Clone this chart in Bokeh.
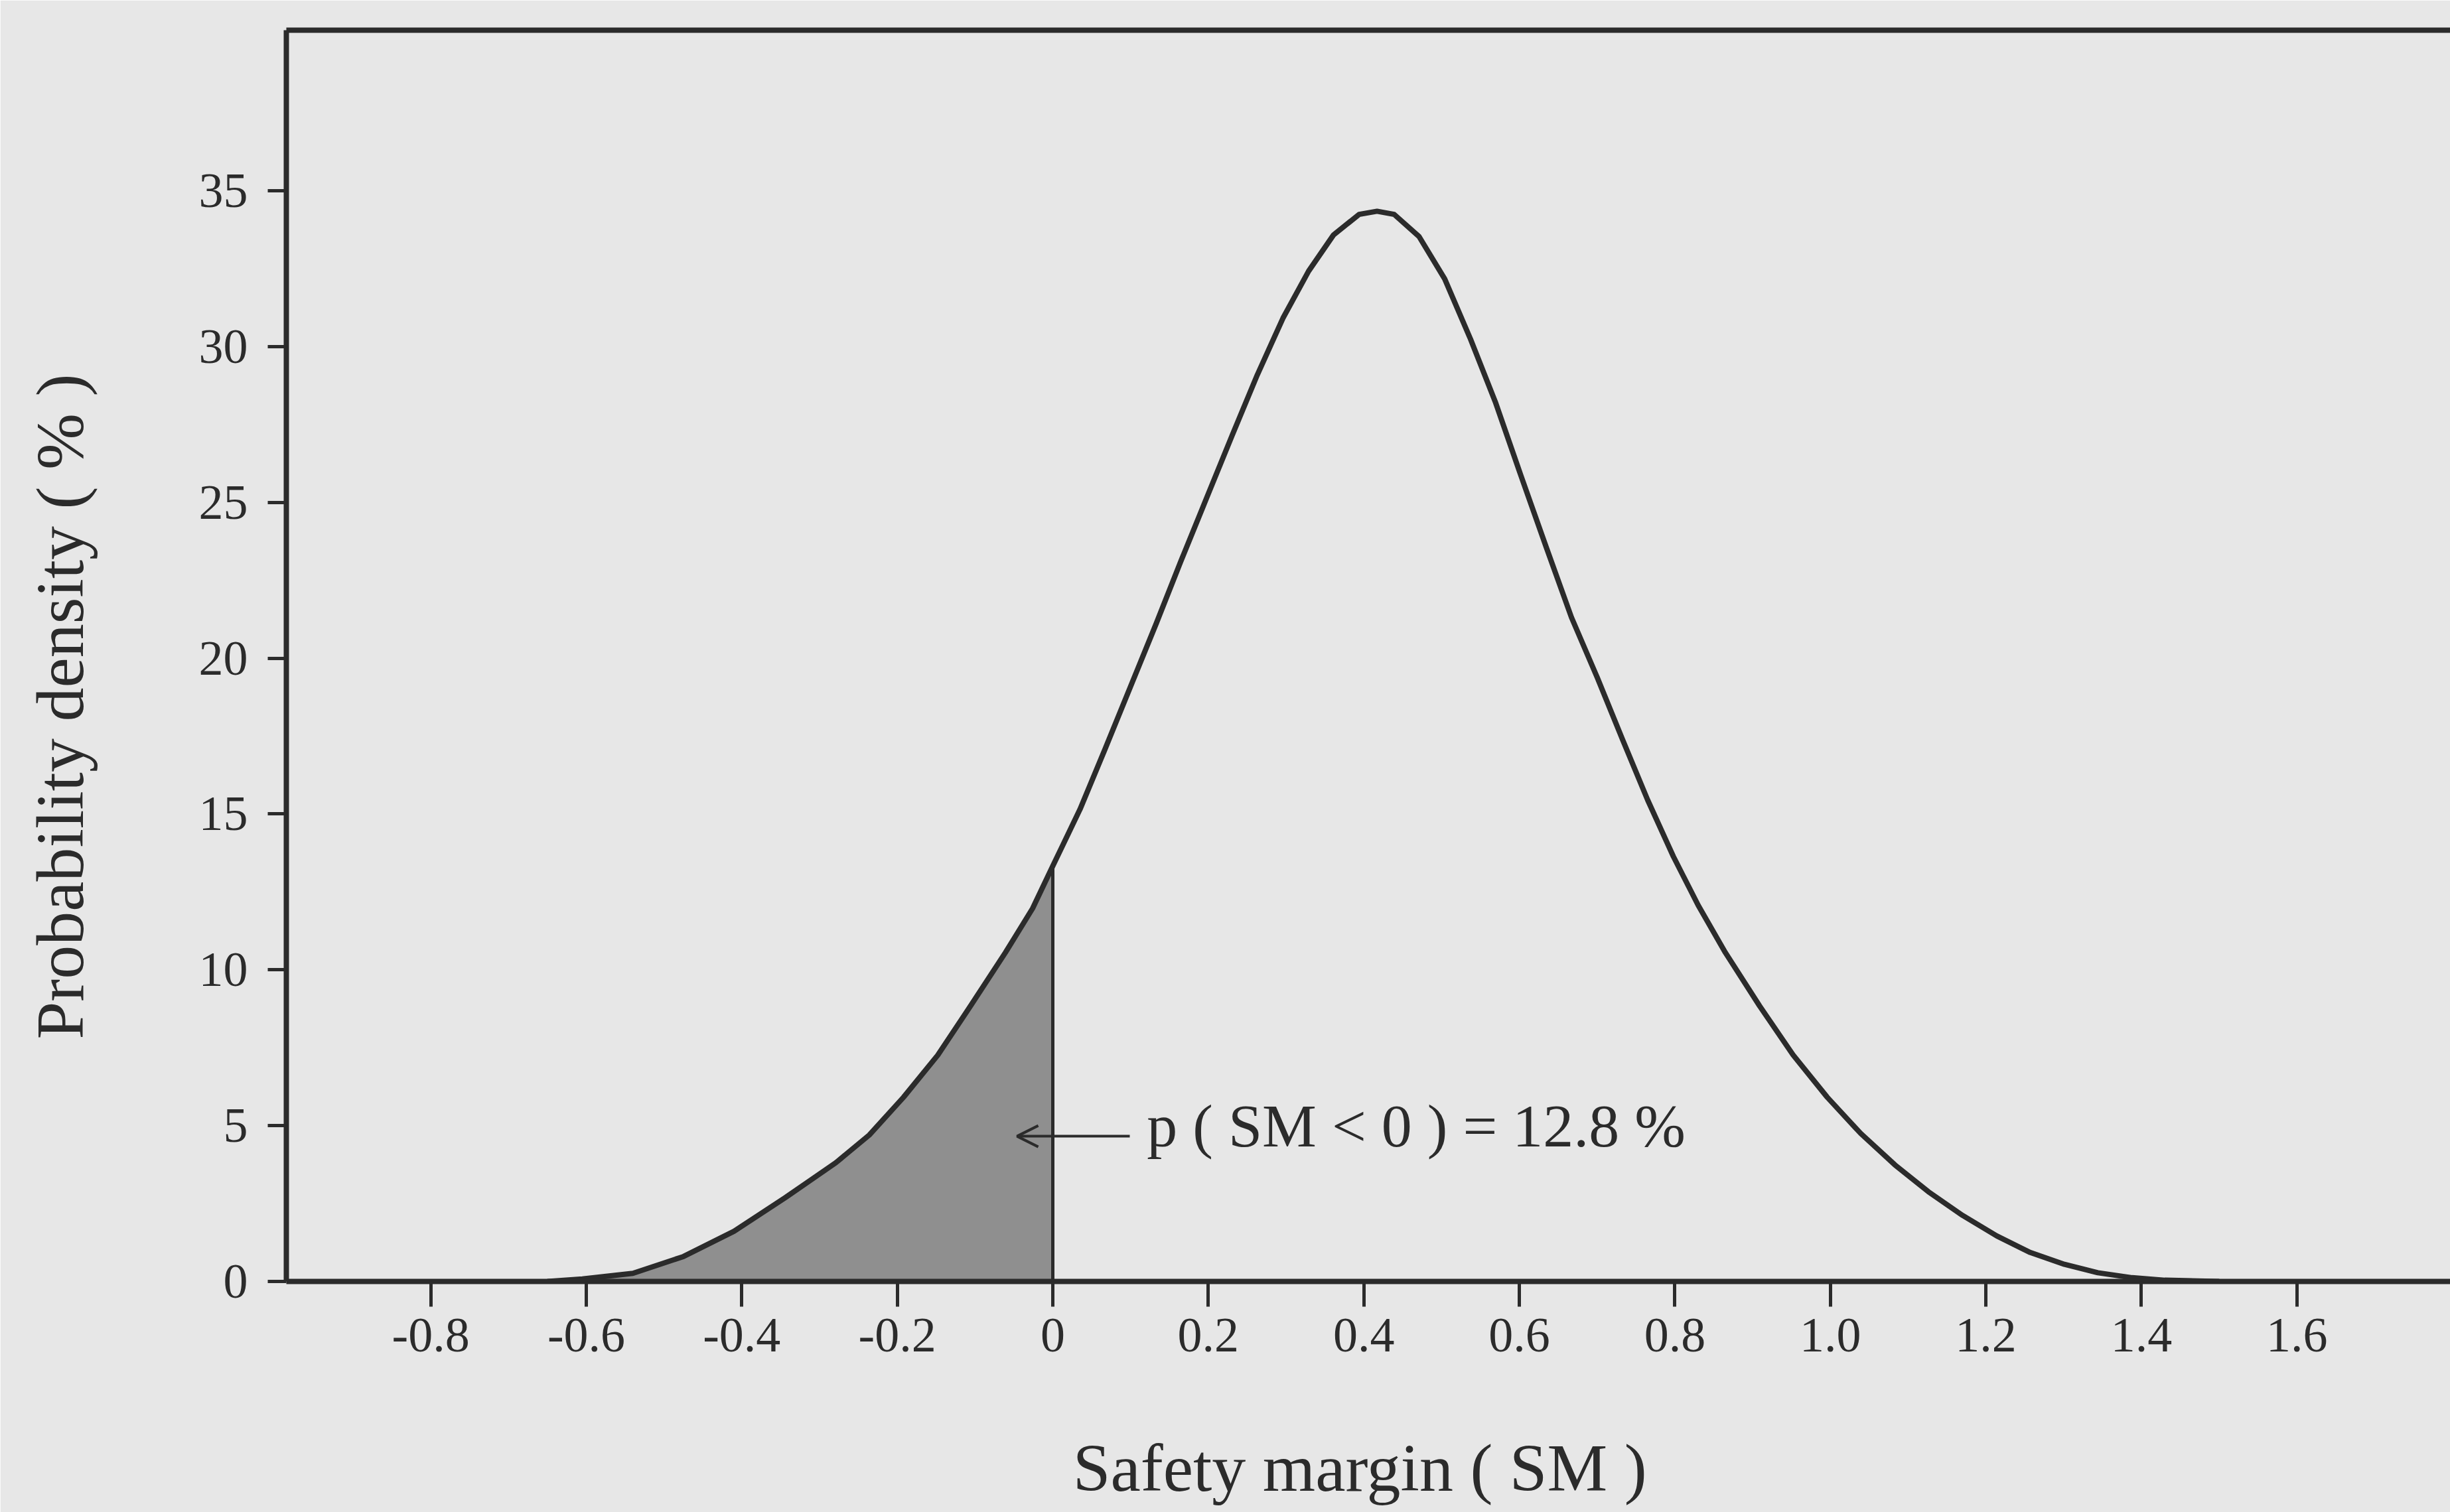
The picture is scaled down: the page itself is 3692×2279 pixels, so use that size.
from bokeh.plotting import figure
from bokeh.models import (ColumnDataSource, FixedTicker, LinearAxis, Arrow, OpenHead,
                          Label, Range1d)
from bokeh.embed import file_html
from bokeh.resources import INLINE

# ---- data ----
sm = [-0.650, -0.605, -0.540, -0.475, -0.410, -0.344, -0.279, -0.236, -0.192, -0.148,
      -0.105, -0.061, -0.026, 0.000, 0.035, 0.067, 0.100, 0.133, 0.165, 0.198,
      0.231, 0.263, 0.296, 0.329, 0.361, 0.394, 0.417, 0.439, 0.471, 0.504,
      0.537, 0.569, 0.602, 0.635, 0.667, 0.700, 0.733, 0.765, 0.798, 0.830,
      0.865, 0.909, 0.952, 0.996, 1.039, 1.083, 1.126, 1.170, 1.214, 1.257,
      1.301, 1.344, 1.388, 1.430, 1.500]
density = [0.00, 0.08, 0.26, 0.80, 1.61, 2.69, 3.81, 4.70, 5.91, 7.26,
           8.87, 10.55, 11.97, 13.33, 15.15, 17.07, 19.09, 21.11, 23.13, 25.15,
           27.17, 29.09, 30.91, 32.42, 33.58, 34.24, 34.34, 34.24, 33.53, 32.17,
           30.25, 28.23, 25.86, 23.53, 21.31, 19.39, 17.37, 15.45, 13.64, 12.07,
           10.55, 8.84, 7.27, 5.91, 4.75, 3.74, 2.88, 2.12, 1.46, 0.93,
           0.55, 0.28, 0.12, 0.04, 0.00]

x_ticks = [-0.8, -0.6, -0.4, -0.2, 0.0, 0.2, 0.4, 0.6, 0.8, 1.0, 1.2, 1.4, 1.6]
x_tick_labels = ["-0.8", "-0.6", "-0.4", "-0.2", "0", "0.2", "0.4", "0.6",
                 "0.8", "1.0", "1.2", "1.4", "1.6"]
y_ticks = [0, 5, 10, 15, 20, 25, 30, 35]

threshold = 0.0
annotation_text = "p ( SM < 0 ) = 12.8 %"
arrow_y = 4.66
arrow_from_x = 0.099
arrow_to_x = -0.046
label_x = 0.121
label_y = 5.0

# trailing no-break spaces nudge the centred titles to where they sit in the original
x_label = "Safety margin ( SM )" + "\u00a0"
y_label = "Probability density  ( % )" + "\u00a0" * 5

# ---- style ----
BG = "#e7e7e7"
INK = "#2b2b2b"
FONT = "Liberation Serif"

W, H = 3692, 2279
LEFT, TOP, BOTTOM = 431, 45, 348
p = figure(width=W, height=H, output_backend="svg", toolbar_location=None,
           x_range=Range1d(-0.9857, 1.7973), y_range=Range1d(0, 40.15),
           x_axis_location=None, y_axis_location=None)
p.min_border_left = LEFT
p.min_border_right = 0
p.min_border_top = TOP
p.min_border_bottom = BOTTOM
p.background_fill_color = BG
p.border_fill_color = BG
p.outline_line_color = None
p.xgrid.visible = False
p.ygrid.visible = False

src = ColumnDataSource(dict(x=sm, y=density))
shade_x = [x for x in sm if x <= threshold]
shade_y = [density[i] for i, x in enumerate(sm) if x <= threshold]
shade = ColumnDataSource(dict(x=shade_x, y1=[0] * len(shade_x), y2=shade_y))

p.varea(x="x", y1="y1", y2="y2", source=shade, fill_color="#8f8f8f")
edge = ColumnDataSource(dict(x0=[threshold], y0=[0], x1=[threshold], y1=[shade_y[-1]]))
p.segment(x0="x0", y0="y0", x1="x1", y1="y1", source=edge, line_color=INK, line_width=5)
p.line(x="x", y="y", source=src, line_color=INK, line_width=8, line_join="round")

# axes
xa = LinearAxis(ticker=FixedTicker(ticks=x_ticks))
xa.major_label_overrides = {t: l for t, l in zip(x_ticks, x_tick_labels)}
ya = LinearAxis(ticker=FixedTicker(ticks=y_ticks))
for ax in (xa, ya):
    ax.axis_line_color = INK
    ax.axis_line_width = 8
    ax.major_tick_line_color = INK
    ax.major_tick_line_width = 5
    ax.major_tick_in = 0
    ax.minor_tick_line_color = None
    ax.major_label_text_font = FONT
    ax.major_label_text_font_size = "74px"
    ax.major_label_text_color = INK
    ax.axis_label_text_font = FONT
    ax.axis_label_text_font_size = "102px"
    ax.axis_label_text_font_style = "normal"
    ax.axis_label_text_color = INK
xa.major_tick_out = 38
xa.major_label_standoff = 18
xa.axis_label = x_label
xa.axis_label_standoff = 116
ya.major_tick_out = 28
ya.major_label_standoff = 30
ya.axis_label = y_label
ya.axis_label_standoff = 150
p.add_layout(xa, "below")
p.add_layout(ya, "left")

top = LinearAxis(ticker=FixedTicker(ticks=[]))
top.axis_line_color = INK
top.axis_line_width = 8
top.major_label_text_font_size = "0px"
top.minor_tick_line_color = None
top.major_tick_line_color = None
p.add_layout(top, "above")

p.add_layout(Arrow(end=OpenHead(size=32, line_color=INK, line_width=4),
                   x_start=arrow_from_x, y_start=arrow_y,
                   x_end=arrow_to_x, y_end=arrow_y,
                   line_color=INK, line_width=4))
p.add_layout(Label(x=label_x, y=label_y, text=annotation_text,
                   text_font=FONT, text_font_size="92px", text_color=INK,
                   text_baseline="middle", text_align="left"))

open("out.html", "w").write(file_html(p, INLINE))
